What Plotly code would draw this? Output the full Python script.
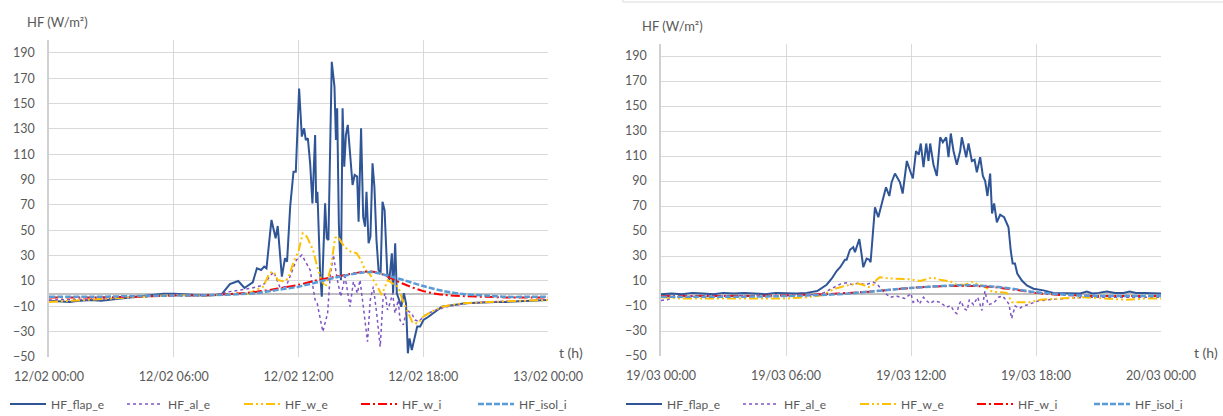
import plotly.graph_objects as go

# ---------------- DATA ----------------
x_tickvals = [0, 6, 12, 18, 24]
left_ticktext = ["12/02 00:00", "12/02 06:00", "12/02 12:00", "12/02 18:00", "13/02 00:00"]
right_ticktext = ["19/03 00:00", "19/03 06:00", "19/03 12:00", "19/03 18:00", "20/03 00:00"]
y_tickvals = [-50, -30, -10, 10, 30, 50, 70, 90, 110, 130, 150, 170, 190]
series_names = ["HF_flap_e", "HF_al_e", "HF_w_e", "HF_w_i", "HF_isol_i"]

# ---- Left chart (12/02), time in hours ----
L_flap_t = [0, 0.5, 1, 1.5, 2, 2.5, 3, 3.5, 4, 4.5, 5, 5.5, 6, 6.5, 7, 7.5, 8, 8.3,
            8.7, 9.1, 9.4, 9.8, 10.0, 10.2, 10.35, 10.46, 10.6, 10.7, 10.9, 11.0, 11.2, 11.35, 11.45,
            11.6, 11.76, 11.87, 12.03, 12.16, 12.27, 12.35, 12.45, 12.56, 12.67, 12.8, 12.85, 12.91,
            13.04, 13.12, 13.28, 13.36, 13.44, 13.6, 13.73, 13.8, 13.86, 13.94, 14.04, 14.12, 14.2,
            14.28, 14.37, 14.48, 14.6, 14.7, 14.82, 14.89, 15.01, 15.11, 15.2, 15.27, 15.37, 15.46,
            15.56, 15.65, 15.75, 15.85, 15.95, 16.04, 16.14, 16.27, 16.37, 16.49, 16.55, 16.65,
            16.73, 16.84, 16.94, 17.07, 17.17, 17.26, 17.34, 17.45, 17.57, 17.71, 17.85, 18.01,
            18.25, 18.57, 18.9, 19.2, 19.5, 20, 20.5, 21, 21.5, 22, 22.5, 23, 23.5, 24]
L_flap_v = [-5.5, -6, -6.5, -5.5, -5, -5.5, -4.5, -4, -3, -2, -1, 0, 0, -0.5, -1, -1.5, -1, -0.5,
            7.6, 10, 4.5, 9, 20, 18.7, 21.3, 20, 42.4, 58.2, 43.7, 53.4, 13.4, 28, 25.3,
            68.7, 96.3, 96.3, 162, 124, 130.5, 121.3, 122.6, 102.9, 71.3, 125.3, 71.6, 80.5,
            16.1, -2.4, 71.3, 43.7, 42.4, 183, 163.4, 121.3, 146.3, 55.5, 10.8, 146.3, 100.2,
            125.3, 133.2, 113.4, 85.8, 93.7, 92.4, 56.8, 130.5, 60.8, 52.9, 80.5, 39.8, 45,
            102.9, 84.5, 42.4, 18.7, 16.1, 72.6, 66, 16.1, 10.8, 31.9, 0.3, 39.8,
            0.3, -5, -10.3, 0.3, -7.6, -47.1, -35.3, -44.5, -35.3, -26, -26, -20.8,
            -18.2, -14.2, -10.3, -9.5, -9, -7.5, -7, -6.5, -6.5, -6.5, -6, -6, -5.5, -5]

L_al_t = [0, 1, 2, 3, 4, 5, 6, 7, 8, 8.7, 9.7, 10.3, 10.8, 10.9, 11.1, 11.4, 11.6, 11.9,
          12.16, 12.56, 12.8, 12.9, 13.17, 13.4, 13.52, 13.68, 13.84, 14.03, 14.24, 14.35, 14.48,
          14.64, 14.83, 14.96, 15.12, 15.32, 15.45, 15.6, 15.76, 15.93, 16.06, 16.17, 16.28, 16.4,
          16.53, 16.64, 16.8, 16.88, 17.04, 17.2, 17.44, 17.6, 17.8, 18.0, 18.3, 18.6, 19, 19.5,
          20, 20.5, 21, 22, 23, 24]
L_al_v = [-5, -5, -4.5, -4, -3, -2, -1, -1.5, -1, 1.6, 4.2, 6.8, 17.3, 13.4, 5.5, 5.5, 13.4, 26.6,
          30.5, 18.7, -5, -7.6, -30, -15.5, 13.4, 30.5, 13.4, -2.4, 13.4, 2.9, -10.3,
          9.5, 0.3, 10.8, -12.9, -37.9, -5, 5.5, -15.5, -41.9, -5, 0.3, -12.9, -7.6,
          0.3, -15.5, -5, -20.8, -24.7, -12.9, -15.5, -20.8, -22, -18, -15, -13, -11, -9,
          -8, -7, -6.5, -6, -5.5, -5]

L_we_t = [0, 0.5, 1, 2, 3, 4, 5, 6, 7, 8, 8.5, 9, 9.5, 10.3, 10.6, 10.8, 11.0, 11.3, 11.5, 11.8,
          12.0, 12.2, 12.4, 12.7, 12.9, 13.1, 13.3, 13.55, 13.76, 13.9, 14.2, 14.5, 14.8, 15.0,
          15.2, 15.4, 15.8, 16.0, 16.3, 16.5, 16.8, 17.0, 17.3, 17.5, 17.75, 18.0, 18.4, 18.9,
          19.9, 20.5, 21, 22, 23, 24]
L_we_v = [-6.5, -6, -5.5, -5, -4, -3, -2, -1, -1.5, -1.5, -1, 0.5, -0.5, 5.5, 16.1, 17.4, 10.8, 9.5, 12, 26.6,
          33.2, 47.7, 45, 34.5, 21.3, 10.8, 5.5, 20, 44, 45, 37.1, 33.2, 31.9, 26.6,
          18.7, 16.1, 5.5, -1, 10.8, 8.2, 5.5, -5, -15.5, -23.4, -23.4, -18.2, -14.2, -10.3,
          -7.6, -7, -6.5, -6, -5.5, -5]

L_wi_t = [0, 2, 4, 6, 7, 8, 9, 10, 11, 12, 13, 14, 15, 15.5, 16, 17, 18, 19, 20, 21, 22, 23, 24]
L_wi_v = [-3, -3, -2.5, -1.5, -1.5, -1, 0, 1.5, 4, 7, 11, 14, 17, 17.5, 15.5, 8, 2, -1, -2, -2.5, -3, -3, -3]

L_is_t = [0, 2, 4, 6, 7, 8, 9, 10, 11, 12, 13, 14, 15, 15.5, 16, 17, 18, 19, 20, 21, 22, 23, 24]
L_is_v = [-2.5, -2.5, -2, -1.5, -1.5, -1, -0.5, 0.5, 3, 5.5, 9.5, 13.5, 16.5, 17, 15.5, 11, 6, 2, -0.5, -1.5, -2.5, -2.5, -2.5]

# ---- Right chart (19/03), time in hours ----
R_flap_t = [0, 0.5, 1, 1.5, 2, 2.5, 3, 3.5, 4, 4.5, 5, 5.5, 6, 6.5, 7, 7.5, 7.95, 8.2, 8.43,
            8.6, 8.83, 8.91, 9.07, 9.15, 9.23, 9.31, 9.52, 9.63, 9.71, 9.87, 10.0, 10.06, 10.27,
            10.43, 10.64, 10.8, 10.96, 11.07, 11.23, 11.47, 11.6, 11.8, 11.96, 12.09, 12.24, 12.37,
            12.47, 12.6, 12.73, 12.84, 12.92, 13.08, 13.24, 13.4, 13.53, 13.69, 13.8, 13.91, 14.04,
            14.2, 14.36, 14.44, 14.65, 14.76, 14.92, 15.05, 15.16, 15.32, 15.45, 15.56, 15.67, 15.8,
            15.89, 15.99, 16.12, 16.28, 16.47, 16.68, 16.79, 16.88, 16.99, 17.1, 17.32, 17.56,
            17.88, 18.36, 18.84, 19.48, 20.12, 20.44, 20.7, 21.0, 21.4, 21.8, 22.2, 22.5, 22.8,
            23.2, 23.6, 24]
R_flap_v = [-0.5, 0, -0.5, 0.5, 0, -0.5, 0.5, 0, 0.5, 0, -0.5, 0.5, 0, 0, 0.5, 2, 7, 12, 18,
            21, 27, 27, 35, 36, 37, 33, 43.5, 31, 21, 28, 27, 25, 69,
            61, 76, 85, 78, 89, 96, 89, 80, 106, 98, 92, 114, 111,
            120, 101, 120, 106, 120, 103, 94, 125, 121, 125, 109, 128, 114,
            103, 114, 125, 109, 120, 106, 107, 97, 109, 94, 90, 78, 96,
            64, 72, 57, 63, 61, 53, 34, 24, 24, 16, 10.4, 6.4,
            3.8, 2.5, 0.5, 0, 0, 1.5, 0, 0.5, 1.5, 0.5, 0.5, 1.5, 0.5,
            0.5, 0.5, 0]

R_al_t = [0, 0.3, 0.6, 1, 2, 3, 4, 5, 6, 7, 7.8, 8.3, 8.6, 8.9, 9.2, 9.5, 9.8, 10.2, 10.35, 10.7,
          11, 11.3, 11.7, 12.0, 12.1, 12.3, 12.4, 12.6, 12.7, 12.9, 13.1, 13.4, 13.7, 13.9, 14.1,
          14.2, 14.3, 14.4, 14.55, 14.7, 14.8, 15.0, 15.2, 15.3, 15.4, 15.55, 15.7, 15.9, 16.0,
          16.2, 16.4, 16.6, 16.7, 16.83, 17.0, 17.2, 17.4, 17.6, 18.1, 18.6, 19.2, 19.8, 20.4,
          21, 22, 23, 24]
R_al_v = [-5.5, -5, -3, -2.5, -2, -2, -2, -2, -2, -1.5, 0.5, 5, 7.5, 8.5, 7, 8.5, 7, 9, 8, 1,
          -3, -2, -4, 0, -7, -5, -8.5, -3, -5, -8, -6, -7, -11, -9.6, -15,
          -16, -9, -6, -12, -13.6, -5, -9, -3, -8, -13.6, 2, -9, -8, -7,
          -3, -2, -6, -8.5, -20, -10, -12, -10, -9, -6, -5, -4, -3.5, -3,
          -3, -3, -3, -3]

R_we_t = [0, 0.5, 1, 2, 3, 4, 5, 6, 7, 7.7, 8.3, 8.8, 9.4, 9.7, 9.95, 10.2, 10.35, 10.5, 11, 11.5,
          11.9, 12.45, 13.0, 13.4, 13.9, 14.2, 14.6, 15.0, 15.2, 15.5, 15.9, 16.3, 16.6, 16.85,
          17.2, 17.7, 18.2, 19.2, 20.3, 21.3, 22.3, 23.3, 24]
R_we_v = [-3, -3.5, -4, -4, -4, -3.5, -4, -4, -3, -1.5, 3.5, 6, 8, 7, 5, 7, 11, 13, 12, 12,
          11.5, 10, 12.8, 11, 9.6, 7, 7, 9.6, 7, 6, 1.4, 1, 0.5, -7,
          -7, -7, -5, -4, -3, -4, -5, -4, -4]

R_wi_t = [0, 2, 4, 6, 7, 8, 9, 10, 11, 12, 13, 14, 15, 16, 17, 18, 19, 20, 21, 22, 23, 24]
R_wi_v = [-2, -2, -2, -1.5, -1, -0.5, 0.5, 1.5, 3, 4.5, 5.5, 6, 6, 5, 3, 0.5, -1, -1.5, -2, -2, -2, -2]

R_is_t = [0, 2, 4, 6, 7, 8, 9, 10, 11, 12, 13, 14, 15, 16, 17, 18, 19, 20, 21, 22, 23, 24]
R_is_v = [-2.5, -2.5, -2.5, -2, -1.5, -1, 0, 1.5, 3, 4.5, 5.5, 6.5, 6.5, 5.5, 3.5, 1, -0.5, -1.5, -2, -2, -2, -2]

# ---------------- STYLE ----------------
FONT = "Lato"
TXT = "#595959"
GRID = "#D9D9D9"
styles = [
    dict(color="#2F5597", width=2, dash="solid", shape="linear"),
    dict(color="#7F55C4", width=1.5, dash="dot", shape="linear"),
    dict(color="#FFC000", width=2, dash="9px,3px,2px,3px,2px,3px", shape="linear"),
    dict(color="#FF0000", width=2, dash="9px,3px,2px,3px", shape="spline"),
    dict(color="#5B9BD5", width=2.5, dash="6px,2px", shape="spline"),
]

fig = go.Figure()

left = [(L_flap_t, L_flap_v), (L_al_t, L_al_v), (L_we_t, L_we_v), (L_wi_t, L_wi_v), (L_is_t, L_is_v)]
right = [(R_flap_t, R_flap_v), (R_al_t, R_al_v), (R_we_t, R_we_v), (R_wi_t, R_wi_v), (R_is_t, R_is_v)]

for (t, v), name, st in zip(left, series_names, styles):
    fig.add_trace(go.Scatter(x=t, y=v, name=name, mode="lines", xaxis="x", yaxis="y",
                             legend="legend",
                             line=dict(color=st["color"], width=st["width"], dash=st["dash"],
                                       shape=st["shape"], smoothing=0.8)))
for (t, v), name, st in zip(right, series_names, styles):
    fig.add_trace(go.Scatter(x=t, y=v, name=name, mode="lines", xaxis="x2", yaxis="y2",
                             legend="legend2",
                             line=dict(color=st["color"], width=st["width"], dash=st["dash"],
                                       shape=st["shape"], smoothing=0.8)))

W, H = 1223, 416


def xax(domain, ticktext, anchor):
    return dict(domain=domain, range=[0, 24], tickvals=x_tickvals, ticktext=ticktext,
                showgrid=True, gridcolor=GRID, gridwidth=1.3, zeroline=False, showline=False,
                ticks="", ticklabelstandoff=10, anchor=anchor, automargin=False,
                tickfont=dict(family=FONT, size=12.5, color=TXT), fixedrange=True)


def yax(domain, anchor):
    return dict(domain=domain, range=[-50, 200], tickvals=y_tickvals, showgrid=True,
                gridcolor=GRID, gridwidth=1.3, zeroline=True, zerolinecolor="#BFBFBF",
                zerolinewidth=2, showline=True, linecolor="#D0D0D0", linewidth=1.5,
                ticks="", ticklabelstandoff=10, anchor=anchor, automargin=False,
                tickfont=dict(family=FONT, size=12.5, color=TXT), fixedrange=True)


legend_common = dict(orientation="h", xanchor="left", yanchor="middle",
                     xref="container", yref="container",
                     font=dict(family=FONT, size=12, color=TXT), bgcolor="rgba(0,0,0,0)",
                     entrywidth=66, entrywidthmode="pixels", itemwidth=36, tracegroupgap=0)

fig.update_layout(
    width=W, height=H, autosize=False,
    margin=dict(l=0, r=0, t=0, b=0, autoexpand=False),
    paper_bgcolor="white", plot_bgcolor="white",
    font=dict(family=FONT, color=TXT),
    xaxis=xax([49 / W, 548 / W], left_ticktext, "y"),
    yaxis=yax([1 - 357 / H, 1 - 40.3 / H], "x"),
    xaxis2=xax([661 / W, 1161 / W], right_ticktext, "y2"),
    yaxis2=yax([1 - 356 / H, 1 - 43.5 / H], "x2"),
    legend=dict(x=5 / W, y=1 - 404 / H, **legend_common),
    legend2=dict(x=621 / W, y=1 - 404 / H, **legend_common),
    annotations=[
        dict(text="HF (W/m²)", x=25 / W, y=1 - 22 / H, xref="paper", yref="paper",
             xanchor="left", yanchor="middle", showarrow=False,
             font=dict(family=FONT, size=13, color=TXT)),
        dict(text="HF (W/m²)", x=640 / W, y=1 - 26 / H, xref="paper", yref="paper",
             xanchor="left", yanchor="middle", showarrow=False,
             font=dict(family=FONT, size=13, color=TXT)),
        dict(text="t (h)", x=585 / W, y=1 - 352 / H, xref="paper", yref="paper",
             xanchor="right", yanchor="middle", showarrow=False,
             font=dict(family=FONT, size=14, color=TXT)),
        dict(text="t (h)", x=1220 / W, y=1 - 352 / H, xref="paper", yref="paper",
             xanchor="right", yanchor="middle", showarrow=False,
             font=dict(family=FONT, size=14, color=TXT)),
    ],
    shapes=[
        dict(type="line", xref="paper", yref="paper", x0=623 / W, x1=1, y0=1 - 2 / H, y1=1 - 2 / H,
             line=dict(color="#D9D9D9", width=1)),
        dict(type="line", xref="paper", yref="paper", x0=623 / W, x1=623 / W, y0=1 - 2 / H, y1=1,
             line=dict(color="#D9D9D9", width=1)),
    ],
)

fig.write_html("out.html",
               config={"displayModeBar": False},
               post_script="document.body.style.margin='0';document.body.style.overflow='hidden';")
